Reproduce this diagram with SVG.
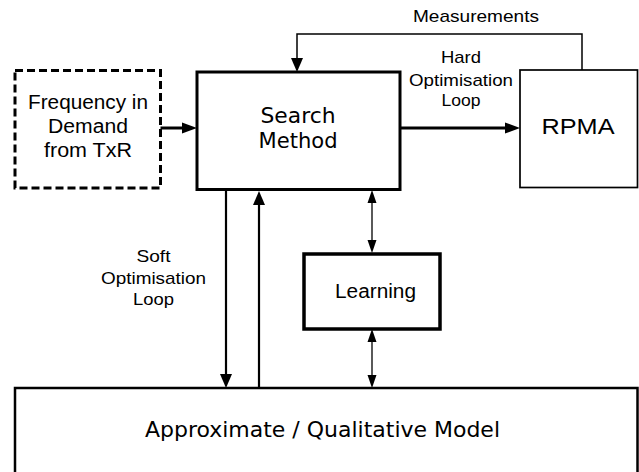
<svg xmlns="http://www.w3.org/2000/svg" width="639" height="472" viewBox="0 0 639 472">
  <defs>
    <style>
      .box { fill: #ffffff; stroke: #000000; }
      .heavy { stroke-width: 3; }
      .light { stroke-width: 1.7; }
      .dashed { stroke-width: 3; stroke-dasharray: 8 4; }
      .wire { fill: none; stroke: #000000; }
      .sans { font-family: "Liberation Sans", Arial, sans-serif; fill: #000000; text-anchor: middle; }
      .vera { font-family: "DejaVu Sans", Verdana, sans-serif; fill: #000000; text-anchor: middle; }
    </style>
    <marker id="headBold" markerUnits="userSpaceOnUse" markerWidth="16" markerHeight="12" viewBox="0 -6 16 12" refX="0" refY="0" orient="auto">
      <path d="M0,-5.5 L15,0 L0,5.5 Z" fill="#000000"/>
    </marker>
    <marker id="headMid" markerUnits="userSpaceOnUse" markerWidth="15" markerHeight="14" viewBox="0 -7 15 14" refX="0" refY="0" orient="auto">
      <path d="M0,-6 L14,0 L0,6 Z" fill="#000000"/>
    </marker>
    <marker id="headThin" markerUnits="userSpaceOnUse" markerWidth="14" markerHeight="10" viewBox="0 -5 14 10" refX="0" refY="0" orient="auto-start-reverse">
      <path d="M0,-4.5 L13,0 L0,4.5 Z" fill="#000000"/>
    </marker>
  </defs>

  <rect x="0" y="0" width="639" height="472" fill="#ffffff"/>

  <!-- connectors -->
  <g id="connectors">
    <line class="wire" x1="160" y1="128" x2="182" y2="128" stroke-width="3" marker-end="url(#headBold)"/>
    <line class="wire" x1="400" y1="128" x2="505" y2="128" stroke-width="3" marker-end="url(#headBold)"/>
    <path class="wire" d="M582,70 V34 H297 V58" stroke-width="1.5" marker-end="url(#headMid)"/>
    <path class="wire" d="M226,189 V374" stroke-width="2.2" marker-end="url(#headMid)"/>
    <path class="wire" d="M259,388 V205" stroke-width="2.2" marker-end="url(#headMid)"/>
    <path class="wire" d="M372,203 V240" stroke-width="1.3" marker-start="url(#headThin)" marker-end="url(#headThin)"/>
    <path class="wire" d="M372,342 V375" stroke-width="1.3" marker-start="url(#headThin)" marker-end="url(#headThin)"/>
    <text class="sans" x="476" y="22" font-size="17" textLength="126" lengthAdjust="spacingAndGlyphs">Measurements</text>
    <text class="sans" x="461" y="63" font-size="17" textLength="40" lengthAdjust="spacingAndGlyphs">Hard</text>
    <text class="sans" x="461" y="86" font-size="17" textLength="104" lengthAdjust="spacingAndGlyphs">Optimisation</text>
    <text class="sans" x="461" y="106" font-size="17" textLength="39" lengthAdjust="spacingAndGlyphs">Loop</text>
    <text class="sans" x="153.5" y="262" font-size="17" textLength="34" lengthAdjust="spacingAndGlyphs">Soft</text>
    <text class="sans" x="153.5" y="284" font-size="17" textLength="105" lengthAdjust="spacingAndGlyphs">Optimisation</text>
    <text class="sans" x="153.5" y="305" font-size="17" textLength="41" lengthAdjust="spacingAndGlyphs">Loop</text>
  </g>

  <!-- demand source -->
  <g id="frequency-demand">
    <rect class="box dashed" x="15" y="70.5" width="145.5" height="117.5"/>
    <text class="sans" x="88" y="109" font-size="19.5" textLength="120" lengthAdjust="spacingAndGlyphs">Frequency in</text>
    <text class="sans" x="88" y="133" font-size="19.5" textLength="80" lengthAdjust="spacingAndGlyphs">Demand</text>
    <text class="sans" x="88" y="157" font-size="19.5" textLength="88" lengthAdjust="spacingAndGlyphs">from TxR</text>
  </g>

  <g id="search-method">
    <rect class="box heavy" x="197" y="72" width="203" height="117.5"/>
    <text class="vera" x="298" y="123" font-size="22" textLength="75" lengthAdjust="spacingAndGlyphs">Search</text>
    <text class="vera" x="298" y="148" font-size="22" textLength="79" lengthAdjust="spacingAndGlyphs">Method</text>
  </g>

  <g id="rpma">
    <rect class="box light" x="520" y="70" width="117.5" height="117.5"/>
    <text class="sans" x="578" y="134" font-size="22.5" textLength="73" lengthAdjust="spacingAndGlyphs">RPMA</text>
  </g>

  <g id="learning">
    <rect class="box" stroke-width="3.5" x="304" y="254" width="136" height="75"/>
    <text class="sans" x="375.5" y="298" font-size="20" textLength="81" lengthAdjust="spacingAndGlyphs">Learning</text>
  </g>

  <g id="approximate-model">
    <rect class="box" stroke-width="2.5" x="15" y="388" width="622.5" height="100"/>
    <text class="vera" x="322.5" y="437" font-size="21" textLength="355" lengthAdjust="spacingAndGlyphs">Approximate / Qualitative Model</text>
  </g>
</svg>
